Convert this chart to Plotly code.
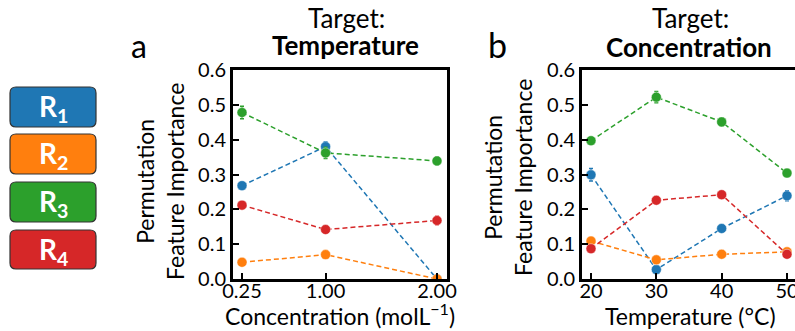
import plotly.graph_objects as go

# ---- data -------------------------------------------------------------
conc = [0.25, 1.00, 2.00]
conc_labels = ["0.25", "1.00", "2.00"]
temps = [20, 30, 40, 50]

series = ["R1", "R2", "R3", "R4"]
colors = ["#1f77b4", "#ff7f0e", "#2ca02c", "#d62728"]

# target: temperature (x = concentration)
imp_a = {
    "R1": [0.268, 0.380, 0.000],
    "R2": [0.048, 0.070, 0.000],
    "R3": [0.478, 0.362, 0.339],
    "R4": [0.212, 0.142, 0.168],
}
err_a = {
    "R1": [0.008, 0.014, 0.006],
    "R2": [0.006, 0.006, 0.003],
    "R3": [0.018, 0.016, 0.012],
    "R4": [0.008, 0.007, 0.012],
}

# target: concentration (x = temperature)
imp_b = {
    "R1": [0.299, 0.027, 0.145, 0.239],
    "R2": [0.109, 0.055, 0.071, 0.078],
    "R3": [0.397, 0.522, 0.451, 0.304],
    "R4": [0.087, 0.226, 0.242, 0.071],
}
err_b = {
    "R1": [0.018, 0.006, 0.008, 0.014],
    "R2": [0.006, 0.006, 0.005, 0.005],
    "R3": [0.008, 0.016, 0.012, 0.006],
    "R4": [0.006, 0.006, 0.007, 0.006],
}

# ---- geometry helpers (pixel -> paper) ---------------------------------
W, H = 795, 331


def px(x):
    return x / W


def py(y):
    return 1 - y / H


FONT = "Lato"

fig = go.Figure()

for name, col in zip(series, colors):
    common = dict(
        mode="lines+markers",
        line=dict(color=col, width=1.5, dash="5px,3px"),
        marker=dict(size=10, color=col, line=dict(color="rgba(255,255,255,0.45)", width=1)),
        showlegend=False,
    )
    fig.add_trace(go.Scatter(
        x=conc, y=imp_a[name],
        error_y=dict(type="data", array=err_a[name], color=col, thickness=1.5, width=2),
        xaxis="x", yaxis="y", **common))
    fig.add_trace(go.Scatter(
        x=temps, y=imp_b[name],
        error_y=dict(type="data", array=err_b[name], color=col, thickness=1.5, width=2),
        xaxis="x2", yaxis="y2", **common))

axis_common = dict(
    showgrid=False, zeroline=False, showline=True, linecolor="black", linewidth=3,
    ticks="inside", ticklen=6, tickwidth=2, tickcolor="black", automargin=False,
    ticklabeloverflow="allow",
    tickfont=dict(family=FONT, size=20, color="black"),
)

# panel a: x in pixels 0.25 -> 242, 2.00 -> 437 ; plot spans 233..447
sa = (437 - 242) / (2.00 - 0.25)
fig.update_layout(
    xaxis=dict(domain=[px(233), px(447)],
               range=[0.25 - (242 - 233) / sa, 2.00 + (447 - 437) / sa],
               tickvals=conc, ticktext=conc_labels, mirror=True,
               ticklabelstandoff=-8, anchor="y", **axis_common),
    yaxis=dict(domain=[py(279), py(70)], range=[0, 0.6], dtick=0.1,
               tickformat=".1f", mirror=True, anchor="x", **axis_common),
)

# panel b: 20 -> 591, 50 -> 787 ; plot starts at 582 and runs off the page
sb = (787 - 591) / (50 - 20)
fig.update_layout(
    xaxis2=dict(domain=[px(582), 1.0],
                range=[20 - (591 - 582) / sb, 20 + (W - 591) / sb],
                tickvals=temps, mirror=True, ticklabelstandoff=-8,
                anchor="y2", **axis_common),
    yaxis2=dict(domain=[py(279), py(70)], range=[0, 0.6], dtick=0.1,
                tickformat=".1f", mirror=False, anchor="x2", **axis_common),
)

ann = []


def text(x, y, s, size, angle=0, bold=False, color="black", xanchor="center"):
    ann.append(dict(
        x=px(x), y=py(y), xref="paper", yref="paper", text=s, showarrow=False,
        textangle=angle, xanchor=xanchor, yanchor="middle",
        font=dict(family=FONT, size=size, color=color, weight="bold" if bold else "normal"),
    ))


# titles
text(346, 18, "Target:", 26)
text(345, 45, "<b>Temperature</b>", 26)
text(690, 18, "Target:", 26)
text(689, 47, "<b>Concentration</b>", 26)
# panel letters
text(139, 46, "a", 32)
text(497, 45, "b", 34)
# axis titles
text(160, 182, "Permutation<br>Feature Importance", 23, angle=-90)
text(508, 178, "Permutation<br>Feature Importance", 23, angle=-90)
text(340, 314, "Concentration (molL<sup>−1</sup>)", 23)
text(690, 316, "Temperature (°C)", 23)

# colour key boxes
shapes = []
boxes = [(87, 127), (134, 174), (182, 222), (230, 269)]
x0, x1, r = 10, 96, 6
for (y0, y1), col, name in zip(boxes, colors, series):
    path = (
        f"M {px(x0 + r)},{py(y0)} L {px(x1 - r)},{py(y0)} "
        f"Q {px(x1)},{py(y0)} {px(x1)},{py(y0 + r)} "
        f"L {px(x1)},{py(y1 - r)} Q {px(x1)},{py(y1)} {px(x1 - r)},{py(y1)} "
        f"L {px(x0 + r)},{py(y1)} Q {px(x0)},{py(y1)} {px(x0)},{py(y1 - r)} "
        f"L {px(x0)},{py(y0 + r)} Q {px(x0)},{py(y0)} {px(x0 + r)},{py(y0)} Z"
    )
    shapes.append(dict(type="path", path=path, xref="paper", yref="paper",
                       fillcolor=col, line=dict(color="#333333", width=1.2)))
    text((x0 + x1) / 2, (y0 + y1) / 2 + 1, f"<b>R<sub>{name[1]}</sub></b>", 28, color="white")

fig.update_layout(
    width=W, height=H, margin=dict(l=0, r=0, t=0, b=0),
    paper_bgcolor="white", plot_bgcolor="white",
    annotations=ann, shapes=shapes,
)

fig.write_html("out.html")
